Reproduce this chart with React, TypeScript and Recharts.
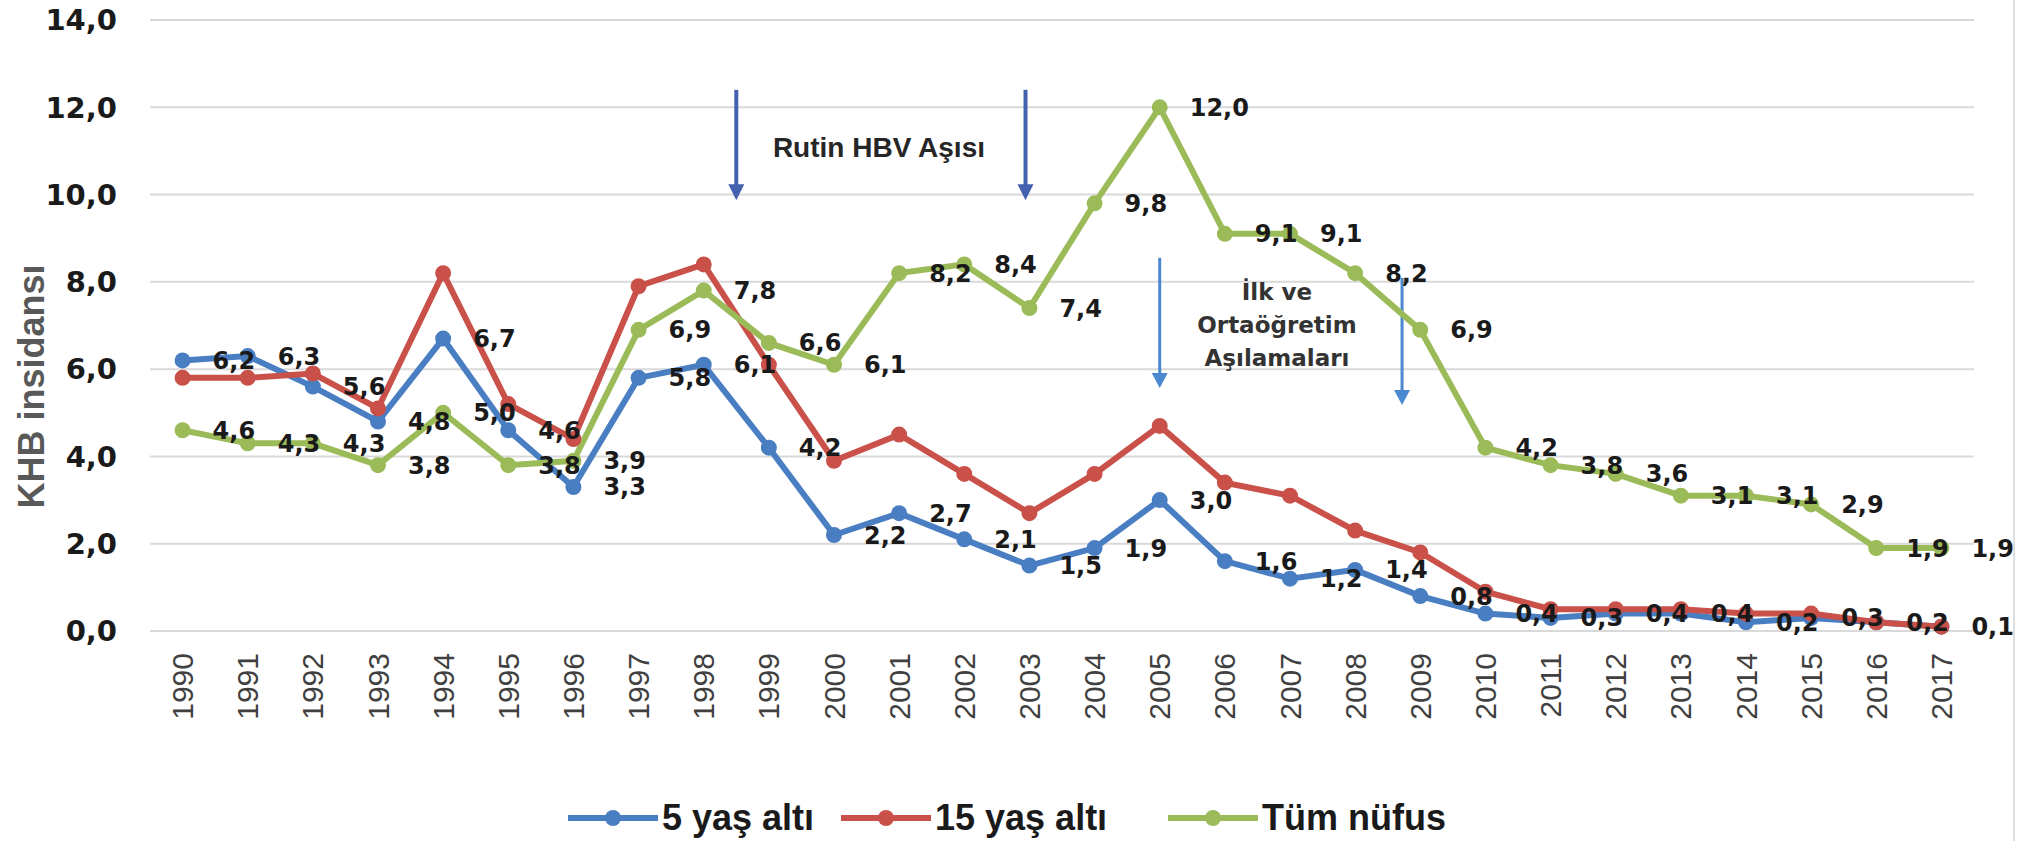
import React from 'react';
import {
  LineChart,
  Line,
  XAxis,
  YAxis,
  CartesianGrid,
  Legend,
  LabelList,
  ReferenceLine,
  ReferenceDot,
} from 'recharts';

// ---------- data ----------
const years = [
  1990, 1991, 1992, 1993, 1994, 1995, 1996, 1997, 1998, 1999, 2000, 2001, 2002, 2003,
  2004, 2005, 2006, 2007, 2008, 2009, 2010, 2011, 2012, 2013, 2014, 2015, 2016, 2017,
];
const under5 = [
  6.2, 6.3, 5.6, 4.8, 6.7, 4.6, 3.3, 5.8, 6.1, 4.2, 2.2, 2.7, 2.1, 1.5,
  1.9, 3.0, 1.6, 1.2, 1.4, 0.8, 0.4, 0.3, 0.4, 0.4, 0.2, 0.3, 0.2, 0.1,
];
const under15 = [
  5.8, 5.8, 5.9, 5.1, 8.2, 5.2, 4.4, 7.9, 8.4, 6.1, 3.9, 4.5, 3.6, 2.7,
  3.6, 4.7, 3.4, 3.1, 2.3, 1.8, 0.9, 0.5, 0.5, 0.5, 0.4, 0.4, 0.2, 0.1,
];
const total = [
  4.6, 4.3, 4.3, 3.8, 5.0, 3.8, 3.9, 6.9, 7.8, 6.6, 6.1, 8.2, 8.4, 7.4,
  9.8, 12.0, 9.1, 9.1, 8.2, 6.9, 4.2, 3.8, 3.6, 3.1, 3.1, 2.9, 1.9, 1.9,
];
const yTicks = [0, 2, 4, 6, 8, 10, 12, 14];
const seriesNames = ['5 yaş altı', '15 yaş altı', 'Tüm nüfus'];
const yAxisTitle = 'KHB insidansı';
const routineText = 'Rutin HBV Aşısı';
const schoolText = ['İlk ve', 'Ortaöğretim', 'Aşılamaları'];

// annotation anchors in data units
const routineArrows = [
  { x: 1998.5, from: 12.4, to: 9.87 },
  { x: 2002.94, from: 12.4, to: 9.87 },
];
const schoolArrows = [
  { x: 2005.0, from: 8.55, to: 5.57 },
  { x: 2008.72, from: 8.09, to: 5.18 },
];
const routineTextAnchor = { x: 2000.69, y: 11.09 };
const schoolTextAnchors = [
  { x: 2006.8, y: 7.77 },
  { x: 2006.8, y: 7.01 },
  { x: 2006.8, y: 6.25 },
];

const data = years.map((year, i) => ({
  year,
  u5: under5[i],
  u15: under15[i],
  all: total[i],
}));

// ---------- styles ----------
const COLORS = ['#4A7EC2', '#C9514A', '#9BBB59'];
const KEYS = ['u5', 'u15', 'all'];
const W = 2023;
const H = 841;
const fmt = (v: any) => (typeof v === 'number' ? v.toFixed(1).replace('.', ',') : v);

const labelStyle = {
  fill: '#1a1a1a',
  fontSize: 24,
  fontWeight: 'bold',
  fontFamily: '"DejaVu Sans", Verdana, sans-serif',
};

function Arrow(props: any) {
  const { x1, y1, x2, y2, color, width, headLen, headHalf } = props;
  if (x1 == null || y1 == null) return null;
  return (
    <g>
      <line x1={x1} y1={y1} x2={x2} y2={y2 - headLen + 1} stroke={color} strokeWidth={width} />
      <polygon
        points={`${x2 - headHalf},${y2 - headLen} ${x2 + headHalf},${y2 - headLen} ${x2},${y2}`}
        fill={color}
      />
    </g>
  );
}

function XTick(props: any) {
  const { x, y, payload } = props;
  return (
    <text
      x={x}
      y={y}
      transform={`rotate(-90, ${x}, ${y})`}
      textAnchor="end"
      dominantBaseline="central"
      fill="#404040"
      fontSize={30}
      fontFamily='"Liberation Sans", Arial, sans-serif'
    >
      {payload.value}
    </text>
  );
}

const legendLefts = [568, 841, 1168];

function LegendContent() {
  return (
    <div style={{ position: 'relative', width: W, height: 46 }}>
      {seriesNames.map((name, i) => (
        <div
          key={name}
          style={{
            position: 'absolute',
            left: legendLefts[i],
            top: 0,
            height: 46,
            display: 'flex',
            alignItems: 'center',
          }}
        >
          <svg width={90} height={20}>
            <line x1={0} y1={10} x2={90} y2={10} stroke={COLORS[i]} strokeWidth={6} />
            <circle cx={45} cy={10} r={8} fill={COLORS[i]} />
          </svg>
          <span
            style={{
              marginLeft: 4,
              fontFamily: '"Liberation Sans", Arial, sans-serif',
              fontWeight: 'bold',
              fontSize: 36,
              color: '#1a1a1a',
              lineHeight: '46px',
              whiteSpace: 'nowrap',
            }}
          >
            {name}
          </span>
        </div>
      ))}
    </div>
  );
}

function YTitle(props: any) {
  const vb = props.viewBox || { x: 0, y: 0, width: 0, height: 0 };
  const cx = vb.x + 31;
  const cy = vb.y + vb.height / 2 + 61;
  return (
    <text
      x={cx}
      y={cy}
      transform={`rotate(-90, ${cx}, ${cy})`}
      textAnchor="middle"
      dominantBaseline="central"
      fill="#595959"
      fontSize={36}
      fontWeight="bold"
      fontFamily='"Liberation Sans", Arial, sans-serif'
    >
      {yAxisTitle}
    </text>
  );
}

export default function App() {
  return (
    <div style={{ position: 'absolute', left: 0, top: 0, width: W, height: H, background: '#fff' }}>
      <LineChart
        width={W}
        height={H}
        data={data}
        margin={{ top: 20, right: 49, left: 0, bottom: 0 }}
      >
        <CartesianGrid vertical={false} stroke="#d9d9d9" strokeWidth={2} />
        <XAxis
          dataKey="year"
          type="number"
          domain={[1989.5, 2017.5]}
          ticks={years}
          interval={0}
          axisLine={false}
          tickLine={false}
          tickSize={0}
          tickMargin={22}
          height={164}
          tick={<XTick />}
        />
        <YAxis
          domain={[0, 14]}
          ticks={yTicks}
          width={150}
          axisLine={false}
          tickLine={false}
          tickSize={0}
          tickMargin={33}
          tickFormatter={fmt}
          tick={{
            fill: '#1a1a1a',
            fontSize: 29,
            fontWeight: 'bold',
            fontFamily: '"DejaVu Sans", Verdana, sans-serif',
          }}
          label={{ content: <YTitle /> } as any}
        />
        <Legend
          verticalAlign="bottom"
          height={46}
          wrapperStyle={{ left: 0, width: W, height: 46, bottom: 0 }}
          content={<LegendContent />}
        />

        {routineArrows.map((a, i) => (
          <ReferenceLine
            key={'ra' + i}
            segment={[
              { x: a.x, y: a.from },
              { x: a.x, y: a.to },
            ]}
            ifOverflow="visible"
            shape={(p: any) => (
              <Arrow {...p} color="#4461B0" width={4} headLen={16} headHalf={8} />
            )}
          />
        ))}
        {schoolArrows.map((a, i) => (
          <ReferenceLine
            key={'sa' + i}
            segment={[
              { x: a.x, y: a.from },
              { x: a.x, y: a.to },
            ]}
            ifOverflow="visible"
            shape={(p: any) => (
              <Arrow {...p} color="#4A88D0" width={3} headLen={15} headHalf={8} />
            )}
          />
        ))}

        <ReferenceDot
          x={routineTextAnchor.x}
          y={routineTextAnchor.y}
          r={0}
          fill="none"
          stroke="none"
          label={{
            value: routineText,
            position: 'center',
            fill: '#262626',
            fontSize: 28,
            fontWeight: 'bold',
            fontFamily: '"Liberation Sans", Arial, sans-serif',
          } as any}
        />
        {schoolText.map((t, i) => (
          <ReferenceDot
            key={'st' + i}
            x={schoolTextAnchors[i].x}
            y={schoolTextAnchors[i].y}
            r={0}
            fill="none"
            stroke="none"
            label={{
              value: t,
              position: 'center',
              fill: '#333333',
              fontSize: 23,
              fontWeight: 'bold',
              fontFamily: '"DejaVu Sans", Verdana, sans-serif',
            } as any}
          />
        ))}

        {KEYS.map((k, i) => (
          <Line
            key={k}
            dataKey={k}
            name={seriesNames[i]}
            stroke={COLORS[i]}
            strokeWidth={6}
            dot={{ r: 7, fill: COLORS[i], stroke: COLORS[i], strokeWidth: 2 }}
            activeDot={false}
            isAnimationActive={false}
          >
            {k !== 'u15' ? (
              <LabelList
                dataKey={k}
                position="right"
                offset={30}
                formatter={fmt}
                {...(labelStyle as any)}
              />
            ) : null}
          </Line>
        ))}
      </LineChart>
      <div
        style={{
          position: 'absolute',
          left: 2013,
          top: 0,
          width: 2,
          height: H,
          background: '#dedede',
        }}
      />
    </div>
  );
}
